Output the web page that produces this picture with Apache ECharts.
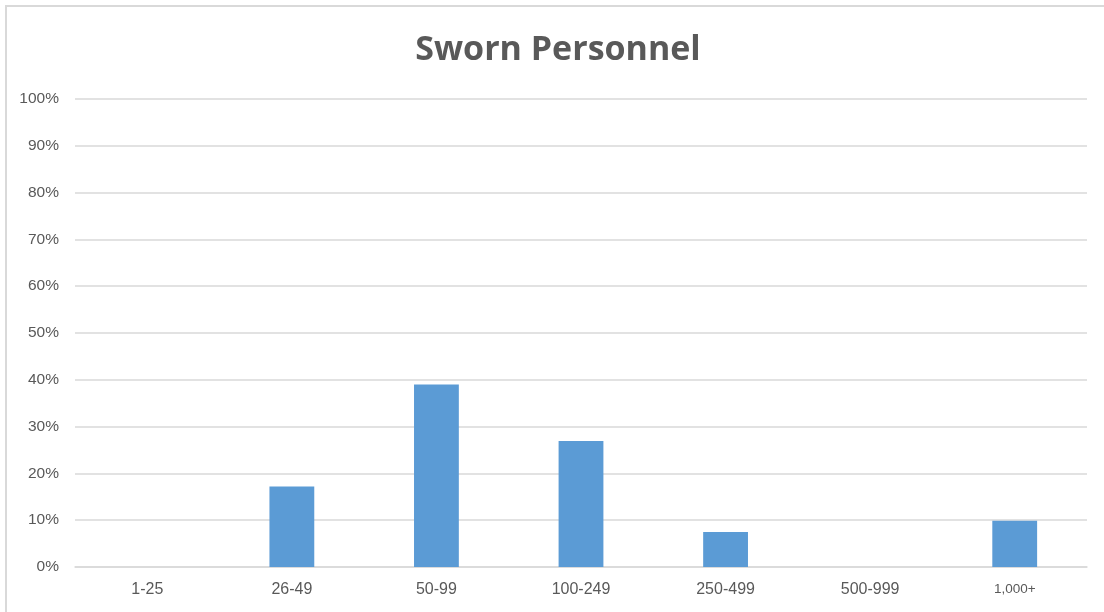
<!DOCTYPE html>
<html style="height: 100%">
<head>
  <meta charset="utf-8">
</head>
<body style="height: 100%; margin: 0; background: #fff">
  <div id="container" style="width: 1104px; height: 612px"></div>
  <script type="text/javascript" src="https://cdn.jsdelivr.net/npm/echarts@6/dist/echarts.min.js"></script>
  <script type="text/javascript">
    var categories = ['1-25', '26-49', '50-99', '100-249', '250-499', '500-999', '1,000+'];
    var shares = [0, 17.2, 39.0, 26.9, 7.5, 0, 9.9];
    var yTicks = [0, 10, 20, 30, 40, 50, 60, 70, 80, 90, 100];

    var dom = document.getElementById("container");
    var myChart = echarts.init(dom);
    var option = {
        backgroundColor: '#fff',
        animation: false,
        title: {
            text: 'Sworn Personnel',
            left: 553,
            textAlign: 'center',
            top: 28,
            textStyle: {
                fontFamily: 'Open Sans',
                fontWeight: 'bold',
                fontSize: 34,
                color: '#595959'
            }
        },
        graphic: [
            { type: 'line', shape: { x1: 5, y1: 6, x2: 1104, y2: 6 }, style: { stroke: '#d9d9d9', lineWidth: 2 } },
            { type: 'line', shape: { x1: 6, y1: 5, x2: 6, y2: 612 }, style: { stroke: '#d9d9d9', lineWidth: 2 } }
        ],
        grid: { left: 75, right: 17, top: 99, bottom: 45 },
        xAxis: {
            type: 'category',
            data: categories,
            axisLine: { show: true, lineStyle: { color: '#d9d9d9', width: 1.5 } },
            axisTick: { show: false },
            axisLabel: {
                margin: 15,
                color: '#595959',
                fontFamily: 'Liberation Sans',
                fontSize: 16,
                formatter: function (v) {
                    return v === '1,000+' ? '{s|' + v + '}' : v;
                },
                rich: {
                    s: { fontSize: 13.5, color: '#595959', fontFamily: 'Liberation Sans', padding: [0, 0, 6, 0] }
                }
            }
        },
        yAxis: {
            type: 'value',
            min: 0,
            max: 100,
            interval: 10,
            axisLine: { show: false },
            axisTick: { show: false },
            splitLine: { lineStyle: { color: '#d9d9d9', width: 1.5 } },
            axisLabel: {
                margin: 16,
                color: '#595959',
                fontFamily: 'Liberation Sans',
                fontSize: 15.5,
                padding: [3, 0, 0, 0],
                formatter: function (v) {
                    return yTicks.indexOf(v) >= 0 ? v + '%' : '';
                }
            }
        },
        series: [{
            type: 'bar',
            data: shares,
            barWidth: '31%',
            itemStyle: { color: '#5b9bd5' }
        }]
    };
    myChart.setOption(option);
  </script>
</body>
</html>
